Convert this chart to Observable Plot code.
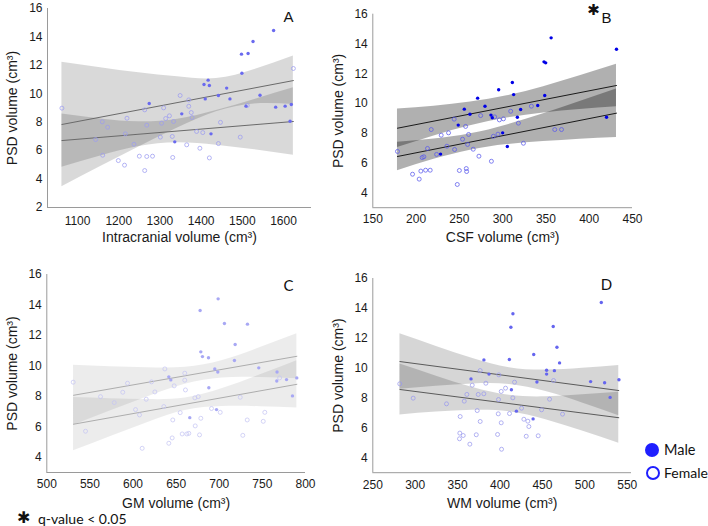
<!DOCTYPE html>
<html><head><meta charset="utf-8">
<script src="https://cdn.jsdelivr.net/npm/d3@7"></script>
<script src="https://cdn.jsdelivr.net/npm/@observablehq/plot@0.6"></script>
<style>
body{margin:0;background:#fff;font-family:Arial,"Liberation Sans",sans-serif;}
#wrap{position:relative;width:708px;height:526px;overflow:hidden;background:#fff;}
.p{position:absolute;}
.leg{position:absolute;font-family:Lato,"Liberation Sans",sans-serif;font-size:15px;color:#111;line-height:1;white-space:nowrap;}
.sym{position:absolute;border-radius:50%;box-sizing:border-box;}
</style></head><body><div id="wrap"></div>
<script>
// ---------- DATA ----------
const yLabel = "PSD volume (cm³)";
const legendLabels = ["Male", "Female"];
const footnote = "q-value < 0.05";

// Panel A: intracranial volume
const icvMale = [[1576,14.45],[1526,13.68],[1498,12.79],[1514,12.83],[1499,11.45],[1417,10.96],[1407,10.65],[1420,10.58],[1462,10.40],[1543,9.90],[1442,9.88],[1410,9.64],[1470,9.64],[1274,9.32],[1509,9.13],[1581,9.06],[1604,9.13],[1619,9.25],[1353,8.59],[1616,8.07],[1424,7.18],[1336,6.62]];
const icvFemale = [[1062,8.99],[1160,8.03],[1173,7.65],[1144,6.78],[1161,5.68],[1199,5.30],[1214,4.98],[1220,8.28],[1216,7.18],[1237,6.45],[1250,5.61],[1263,4.60],[1268,5.59],[1282,5.61],[1268,7.79],[1263,8.87],[1309,9.01],[1314,8.26],[1323,8.45],[1304,7.93],[1301,6.95],[1330,7.00],[1333,8.05],[1331,5.52],[1349,9.88],[1370,9.57],[1370,9.12],[1376,8.68],[1378,8.33],[1389,7.35],[1365,6.41],[1397,6.17],[1404,7.27],[1420,5.49],[1442,6.50],[1447,7.99],[1495,6.95],[1512,9.18],[1624,11.78]];
const icvGrid = [1062,1156,1249,1343,1437,1530,1624];
const icvMaleHi = [12.22,11.84,11.48,11.19,11.07,11.70,12.66];
const icvMaleLo = [3.46,4.88,6.26,7.59,8.73,9.29,9.24];
const icvFemaleHi = [8.58,8.23,8.03,8.21,8.82,9.60,10.42];
const icvFemaleLo = [4.84,5.63,6.29,6.55,6.38,6.06,5.68];
const icvFitX = [1062,1624];
const icvMaleFit = [7.84,10.93];
const icvFemaleFit = [6.71,8.05];
const icvTicks = [1100,1200,1300,1400,1500,1600];
const icvYTicks = [2,4,6,8,10,12,14,16];

// Panel B: CSF volume
const csfMale = [[356,14.41],[431.5,13.65],[347.8,12.80],[349.7,12.73],[311.2,11.41],[295.4,10.92],[312.7,10.60],[271.1,10.36],[348.6,10.54],[279.6,9.82],[340.5,9.87],[255.7,9.62],[320.8,9.60],[262.2,9.28],[286.5,9.22],[288,9.04],[317,9.08],[420,9.08],[248.7,8.55],[300,8.03],[305.4,7.11],[228.3,6.60]];
const csfFemale = [[178.5,6.78],[195.9,5.25],[203.6,4.92],[205.5,5.46],[211,5.52],[216.3,5.52],[207,6.37],[209,6.42],[213.2,6.98],[217.5,8.25],[223.7,6.58],[229,7.87],[237.5,8.03],[235.6,7.13],[244,8.95],[244.5,6.91],[257.2,8.46],[253.7,7.60],[259.5,7.25],[260.7,7.92],[258,5.63],[258.4,5.43],[250,5.50],[247.6,4.56],[274.6,9.19],[266,6.93],[272.6,6.46],[287,6.12],[289.3,7.80],[294.6,7.94],[290.8,9.10],[296.2,8.90],[300.9,8.97],[309.3,9.48],[318.2,8.68],[324,7.33],[333.2,9.82],[360.2,8.25],[368,8.25]];
const csfGrid = [178.5,220.7,262.8,305,347.2,389.3,431.5];
const csfMaleHi = [9.63,9.82,10.10,10.52,11.13,11.86,12.64];
const csfMaleLo = [7.05,7.82,8.50,9.02,9.37,9.60,9.78];
const csfFemaleHi = [7.40,7.61,7.96,8.56,9.32,10.14,10.98];
const csfFemaleLo = [5.48,6.25,6.86,7.24,7.44,7.60,7.72];
const csfFitX = [178.5,431.5];
const csfMaleFit = [8.34,11.21];
const csfFemaleFit = [6.44,9.35];
const csfTicks = [150,200,250,300,350,400,450];

// Panel C: GM volume
const gmMale = [[698.7,14.40],[677.8,13.64],[706,12.78],[732.7,12.74],[718.4,11.40],[678.6,10.92],[680.5,10.61],[687.5,10.53],[717.6,10.35],[745.8,9.87],[694.8,9.80],[698.3,9.60],[767,9.60],[641.5,9.28],[643.8,9.08],[766.7,9.01],[778,9.10],[789.9,9.21],[687.9,8.56],[784.9,8.03],[696.8,7.13],[665.8,6.60]];
const gmFemale = [[530.6,8.93],[544.9,5.71],[562.3,7.98],[578.2,7.59],[588.1,8.27],[593.6,8.86],[602.9,7.13],[607.5,6.78],[615.3,7.81],[610.6,4.59],[621.4,8.95],[625.3,8.29],[635.7,7.33],[636.9,9.80],[641.5,4.92],[645.4,5.27],[646.1,6.45],[647.7,8.69],[654.7,6.93],[657,5.53],[662.4,5.53],[664.7,5.57],[660,9.52],[660,9.06],[660.8,8.42],[671.7,7.90],[675.6,7.98],[672.1,6.06],[677.1,5.47],[678.6,6.56],[691,7.20],[701.1,6.95],[724.3,7.94],[727.3,5.44],[732.4,6.45],[751,6.36],[752.8,6.95],[770,9.21]];
const gmGrid = [531,574.2,617.3,660.5,703.7,746.8,790];
const gmMaleHi = [10.04,9.94,9.88,9.91,10.36,11.19,12.11];
const gmMaleLo = [6.10,7.06,7.98,8.79,9.20,9.23,9.15];
const gmFemaleHi = [7.92,7.85,7.79,7.89,8.51,9.40,10.34];
const gmFemaleLo = [4.42,5.37,6.29,7.07,7.33,7.32,7.24];
const gmFitX = [531,790];
const gmMaleFit = [8.07,10.63];
const gmFemaleFit = [6.17,8.79];
const gmTicks = [500,550,600,650,700,750,800];

// Panel D: WM volume
const wmMale = [[519.4,14.39],[415.2,13.64],[412.8,12.74],[462.7,12.79],[467.1,11.40],[439.7,10.91],[411,10.58],[381,10.55],[470.2,10.35],[454.9,9.86],[464.1,9.83],[454.9,9.60],[387,9.60],[365.8,9.28],[443.5,9.07],[506.8,9.10],[523.3,9.02],[540.2,9.22],[413.4,8.55],[529.8,8.04],[419.3,7.12],[439,6.60]];
const wmFemale = [[281.8,8.95],[297.6,7.99],[336.9,7.61],[353,6.76],[352.6,5.65],[352.2,5.27],[356.6,5.49],[357.8,7.79],[360.9,8.24],[367.2,8.86],[364.4,4.91],[372,5.54],[373.1,7.16],[374.3,8.24],[380.9,8.28],[376.6,9.84],[376.6,6.43],[383.3,8.99],[397.1,5.56],[397.9,6.94],[398.2,7.90],[398.6,9.55],[401.4,8.44],[401.4,6.34],[401.8,4.57],[406.5,8.66],[411.2,6.96],[415.1,8.01],[417.1,9.06],[425.4,7.32],[428.1,6.58],[432.8,6.45],[434,6.09],[430.9,5.44],[445,5.47],[449,7.21],[458.4,7.92],[463.1,9.17],[473.7,6.92]];
const wmGrid = [282,325,368,411,454,497,540];
const wmMaleHi = [12.30,11.45,10.64,10.03,9.87,9.99,10.18];
const wmMaleLo = [8.58,8.79,8.94,8.91,8.43,7.67,6.82];
const wmFemaleHi = [10.27,9.46,8.70,8.18,8.08,8.21,8.39];
const wmFemaleLo = [6.87,7.06,7.18,7.08,6.54,5.79,4.97];
const wmFitX = [282,540];
const wmMaleFit = [10.44,8.50];
const wmFemaleFit = [8.57,6.68];
const wmTicks = [250,300,350,400,450,500,550];
const yTicks = [4,6,8,10,12,14,16];

// ---------- RENDER ----------
const wrap = document.getElementById("wrap");
const FONT = "Arial, Liberation Sans, sans-serif";

function panel(c) {
  const pts = arr => arr.map(([x, y]) => ({x, y}));
  const band = c.grid.map((x, i) => ({x, mLo: c.mLo[i], mHi: c.mHi[i], fLo: c.fLo[i], fHi: c.fHi[i]}));
  const fits = c.fitX.map((x, i) => ({x, m: c.mFit[i], f: c.fFit[i]}));
  const marks = [
    Plot.areaY(band, {x: "x", y1: "mLo", y2: "mHi", fill: "black", fillOpacity: c.bandOp, curve: "natural"}),
    Plot.areaY(band, {x: "x", y1: "fLo", y2: "fHi", fill: "black", fillOpacity: c.bandOp, curve: "natural"}),
    Plot.line(fits, {x: "x", y: "m", stroke: c.lineColor, strokeWidth: 1}),
    Plot.line(fits, {x: "x", y: "f", stroke: c.lineColor, strokeWidth: 1}),
    Plot.ruleX([c.xd[0]], {stroke: "#9a9a9a"}),
    Plot.ruleY([c.yd[0]], {stroke: "#9a9a9a"}),
    Plot.axisX({ticks: c.xTicks, tickFormat: d => String(d), tickSize: 0, tickPadding: c.xPad, fontSize: 12, fontFamily: FONT, label: null, fill: "#1a1a1a"}),
    Plot.axisY({ticks: c.yTicks, tickFormat: d => String(d), tickSize: 0, tickPadding: 5, fontSize: 12, fontFamily: FONT, label: null, fill: "#1a1a1a"}),
    Plot.dot(pts(c.female), {x: "x", y: "y", r: 2, stroke: c.fColor, strokeWidth: 0.75, fill: "none"}),
    Plot.dot(pts(c.male), {x: "x", y: "y", r: 1.7, fill: c.mColor, stroke: "none"}),
    Plot.text([c.xLabel], {frameAnchor: "bottom", dy: c.xlDy, lineAnchor: "middle", textAnchor: "middle", fontSize: 14, fontFamily: FONT, fill: "#1a1a1a", text: d => d}),
    Plot.text([yLabel], {frameAnchor: "left", dx: c.ylDx, rotate: -90, lineAnchor: "middle", textAnchor: "middle", fontSize: 14, fontFamily: FONT, fill: "#1a1a1a", text: d => d}),
    Plot.text([c.letter], {frameAnchor: "top-right", dx: c.lDx, dy: c.lDy, lineAnchor: "middle", textAnchor: "middle", fontSize: 15, fill: "#111", fontFamily: c.letterFont, text: d => d})
  ];
  if (c.star) marks.push(Plot.text([c.star], {frameAnchor: "top-right", dx: c.sDx, dy: c.sDy, lineAnchor: "middle", textAnchor: "middle", fontSize: 15, fill: "#111", fontFamily: "DejaVu Sans", text: d => d}));
  const svg = Plot.plot({
    width: c.w, height: c.h,
    marginLeft: c.ml, marginRight: c.mr, marginTop: c.mt, marginBottom: c.mb,
    style: {background: "transparent", fontFamily: FONT, overflow: "visible"},
    x: {domain: c.xd},
    y: {domain: c.yd},
    marks
  });
  svg.classList.add("p");
  svg.style.left = c.left + "px";
  svg.style.top = c.top + "px";
  wrap.appendChild(svg);
}

panel({left: 0, top: 0, w: 320, h: 263, ml: 47, mr: 9, mt: 8, mb: 56,
  xd: [1027, 1668], yd: [2, 16], xTicks: icvTicks, yTicks: icvYTicks, xPad: 9,
  grid: icvGrid, mLo: icvMaleLo, mHi: icvMaleHi, fLo: icvFemaleLo, fHi: icvFemaleHi,
  fitX: icvFitX, mFit: icvMaleFit, fFit: icvFemaleFit,
  male: icvMale, female: icvFemale, bandOp: 0.15, lineColor: "#6a6a6a",
  mColor: "#6a6aef", fColor: "#9c9cf0",
  xLabel: "Intracranial volume (cm³)", xlDy: 30, ylDx: -35,
  letter: "A", lDx: -23, lDy: 9, letterFont: FONT});

panel({left: 320, top: 0, w: 388, h: 263, ml: 52.3, mr: 76, mt: 13.7, mb: 55.8,
  xd: [150, 450], yd: [3, 16], xTicks: csfTicks, yTicks: yTicks, xPad: 7,
  grid: csfGrid, mLo: csfMaleLo, mHi: csfMaleHi, fLo: csfFemaleLo, fHi: csfFemaleHi,
  fitX: csfFitX, mFit: csfMaleFit, fFit: csfFemaleFit,
  male: csfMale, female: csfFemale, bandOp: 0.31, lineColor: "#1a1a1a",
  mColor: "#0000e6", fColor: "#5a5aec",
  xLabel: "CSF volume (cm³)", xlDy: 30, ylDx: -34,
  letter: "B", lDx: -26, lDy: 4, letterFont: FONT,
  star: "✱", sDx: -39, sDy: -4});

panel({left: 0, top: 263, w: 320, h: 263, ml: 46.3, mr: 15, mt: 11, mb: 54,
  xd: [500, 800], yd: [3, 16], xTicks: gmTicks, yTicks: yTicks, xPad: 7,
  grid: gmGrid, mLo: gmMaleLo, mHi: gmMaleHi, fLo: gmFemaleLo, fHi: gmFemaleHi,
  fitX: gmFitX, mFit: gmMaleFit, fFit: gmFemaleFit,
  male: gmMale, female: gmFemale, bandOp: 0.075, lineColor: "#adadad",
  mColor: "#a8a8f4", fColor: "#c6c6f3",
  xLabel: "GM volume (cm³)", xlDy: 31, ylDx: -34,
  letter: "C", lDx: -17, lDy: 12, letterFont: "Lato"});

panel({left: 320, top: 263, w: 388, h: 263, ml: 52.3, mr: 77, mt: 15, mb: 53.8,
  xd: [250, 555], yd: [3, 16], xTicks: wmTicks, yTicks: yTicks, xPad: 7.5,
  grid: wmGrid, mLo: wmMaleLo, mHi: wmMaleHi, fLo: wmFemaleLo, fHi: wmFemaleHi,
  fitX: wmFitX, mFit: wmMaleFit, fFit: wmFemaleFit,
  male: wmMale, female: wmFemale, bandOp: 0.16, lineColor: "#5a5a5a",
  mColor: "#6565ef", fColor: "#9a9aee",
  xLabel: "WM volume (cm³)", xlDy: 31, ylDx: -34,
  letter: "D", lDx: -25, lDy: 7, letterFont: "Lato"});

// Legend (Male / Female)
function addEl(cls, css, text) {
  const d = document.createElement("div");
  d.className = cls;
  Object.assign(d.style, css);
  if (text) d.textContent = text;
  wrap.appendChild(d);
}
addEl("sym", {left: "645px", top: "443px", width: "14px", height: "14px", background: "#1f1fff"});
addEl("sym", {left: "646px", top: "466px", width: "14px", height: "14px", border: "2px solid #1f1fff"});
addEl("leg", {left: "664px", top: "443px", fontSize: "14.5px"}, legendLabels[0]);
addEl("leg", {left: "664px", top: "466px", fontSize: "14px"}, legendLabels[1]);
// footnote
addEl("leg", {left: "17px", top: "510px", fontFamily: "DejaVu Sans", fontSize: "16px"}, "✱");
addEl("leg", {left: "38px", top: "512px", fontSize: "14px"}, footnote);
</script>
</body></html>
